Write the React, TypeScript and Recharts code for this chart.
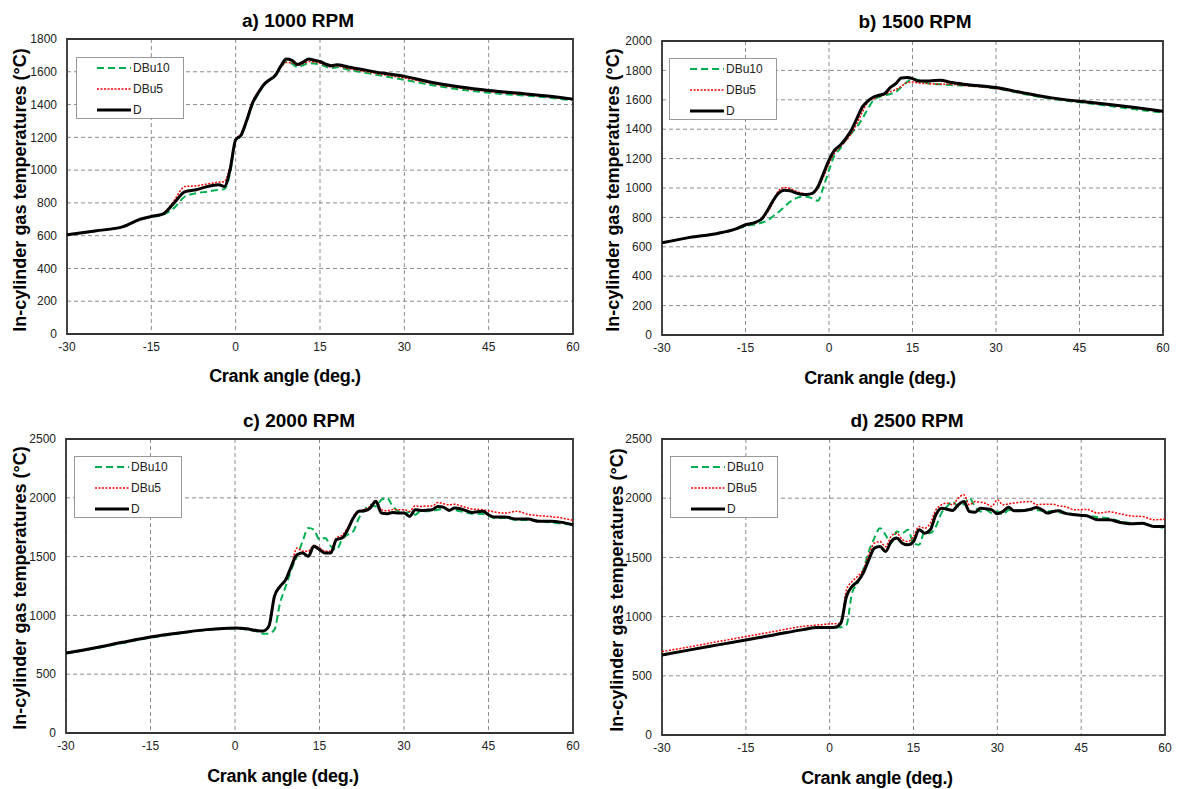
import React from 'react';
import { LineChart, Line, XAxis, YAxis, CartesianGrid, ReferenceArea } from 'recharts';

// crank angle ticks shared by all panels
const X_TICKS = [-30, -15, 0, 15, 30, 45, 60];

// a) 1000 RPM
const ANGLE_A = [-30, -25, -20, -17, -15, -13, -11, -9, -7, -5, -3, -2, -1, 0, 1, 2, 3, 4, 5, 6, 7, 8, 9, 10, 11, 12, 13, 14, 15, 16, 17, 18, 20, 22, 25, 30, 35, 40, 45, 50, 55, 60];
const DBU10_A = [605, 629, 655, 698, 714, 727, 768, 839, 859, 869, 880, 884, 981, 1180, 1210, 1300, 1400, 1465, 1518, 1548, 1572, 1625, 1663, 1650, 1629, 1640, 1653, 1650, 1645, 1632, 1622, 1628, 1612, 1600, 1582, 1551, 1518, 1492, 1472, 1458, 1445, 1425];
const DBU5_A = [605, 629, 655, 700, 717, 733, 812, 900, 904, 916, 926, 930, 1022, 1185, 1225, 1320, 1420, 1478, 1525, 1553, 1575, 1625, 1657, 1655, 1640, 1650, 1663, 1660, 1653, 1640, 1630, 1635, 1620, 1608, 1590, 1562, 1528, 1500, 1480, 1465, 1450, 1430];
const D_A = [605, 629, 655, 700, 717, 731, 798, 869, 880, 900, 910, 900, 1002, 1185, 1215, 1307, 1409, 1470, 1521, 1551, 1576, 1633, 1678, 1670, 1645, 1659, 1678, 1670, 1663, 1647, 1637, 1643, 1629, 1617, 1598, 1572, 1535, 1507, 1486, 1470, 1454, 1433];
const Y_TICKS_A = [0, 200, 400, 600, 800, 1000, 1200, 1400, 1600, 1800];

// b) 1500 RPM
const ANGLE_B = [-30, -25, -20, -17, -15, -13, -12, -11, -10, -9, -8, -7, -6, -5, -4, -3, -2, -1, 0, 1, 2, 3, 4, 5, 6, 7, 8, 9, 10, 11, 12, 13, 14, 15, 16, 18, 20, 22, 25, 30, 35, 40, 45, 50, 55, 60];
const DBU10_B = [627, 664, 691, 715, 741, 754, 765, 781, 810, 838, 872, 906, 929, 940, 940, 929, 913, 1008, 1121, 1223, 1268, 1325, 1370, 1416, 1472, 1540, 1597, 1619, 1630, 1640, 1653, 1687, 1721, 1744, 1735, 1710, 1705, 1700, 1695, 1677, 1640, 1606, 1583, 1560, 1535, 1512];
const DBU5_B = [627, 664, 691, 718, 748, 768, 790, 838, 905, 985, 1003, 996, 980, 966, 960, 963, 1000, 1076, 1166, 1240, 1280, 1320, 1370, 1438, 1517, 1585, 1608, 1625, 1635, 1655, 1669, 1692, 1717, 1721, 1715, 1710, 1706, 1705, 1695, 1677, 1643, 1610, 1587, 1567, 1545, 1518];
const D_B = [627, 664, 691, 718, 750, 770, 793, 850, 917, 967, 985, 981, 967, 958, 956, 963, 1008, 1098, 1189, 1257, 1291, 1336, 1393, 1472, 1552, 1592, 1619, 1631, 1642, 1683, 1710, 1749, 1751, 1744, 1728, 1728, 1733, 1717, 1703, 1683, 1647, 1613, 1590, 1570, 1547, 1522];
const Y_TICKS_B = [0, 200, 400, 600, 800, 1000, 1200, 1400, 1600, 1800, 2000];

// c) 2000 RPM
const ANGLE_C = [-30, -25, -20, -15, -10, -5, 0, 2, 4, 5, 6, 7, 8, 9, 10, 11, 12, 13, 14, 15, 16, 17, 18, 19, 20, 21, 22, 23, 24, 25, 26, 27, 28, 29, 30, 31, 32, 33, 34, 35, 36, 37, 38, 39, 40, 42, 44, 45, 46, 48, 50, 52, 54, 56, 58, 60];
const DBU10_C = [675, 718, 765, 810, 845, 875, 888, 880, 862, 845, 845, 879, 1105, 1247, 1389, 1502, 1630, 1743, 1729, 1644, 1658, 1587, 1559, 1644, 1686, 1715, 1828, 1899, 1941, 1927, 1984, 1998, 1927, 1885, 1870, 1880, 1856, 1890, 1885, 1890, 1899, 1905, 1899, 1895, 1885, 1865, 1862, 1850, 1828, 1828, 1812, 1812, 1800, 1791, 1780, 1771];
const DBU5_C = [680, 723, 771, 816, 850, 879, 895, 890, 872, 868, 900, 1150, 1240, 1300, 1420, 1573, 1545, 1545, 1595, 1575, 1545, 1545, 1660, 1680, 1745, 1840, 1890, 1900, 1930, 1978, 1899, 1890, 1900, 1899, 1899, 1885, 1933, 1925, 1930, 1930, 1961, 1950, 1941, 1945, 1933, 1905, 1899, 1890, 1880, 1870, 1885, 1860, 1848, 1840, 1828, 1808];
const D_C = [680, 723, 771, 816, 850, 879, 893, 887, 870, 867, 907, 1162, 1247, 1304, 1417, 1516, 1530, 1502, 1587, 1559, 1530, 1530, 1644, 1658, 1729, 1828, 1885, 1890, 1913, 1970, 1870, 1865, 1876, 1870, 1870, 1842, 1899, 1893, 1895, 1899, 1927, 1921, 1893, 1913, 1907, 1876, 1885, 1856, 1836, 1836, 1819, 1819, 1800, 1800, 1791, 1771];
const Y_TICKS_C = [0, 500, 1000, 1500, 2000, 2500];

// d) 2500 RPM
const ANGLE_D = [-30, -25, -20, -15, -10, -5, -2, 0, 1, 2, 3, 4, 5, 6, 7, 8, 9, 10, 11, 12, 13, 14, 15, 16, 17, 18, 19, 20, 21, 22, 23, 24, 25, 26, 27, 28, 29, 30, 31, 32, 33, 34, 36, 37, 38, 39, 40, 41, 42, 44, 46, 48, 50, 52, 54, 56, 58, 60];
const DBU10_D = [676, 719, 761, 803, 845, 888, 907, 907, 908, 910, 930, 1198, 1282, 1395, 1550, 1663, 1747, 1691, 1620, 1719, 1705, 1733, 1620, 1606, 1719, 1705, 1761, 1874, 1930, 1972, 1930, 1950, 2001, 1930, 1888, 1900, 1874, 1888, 1860, 1900, 1895, 1900, 1902, 1900, 1895, 1890, 1888, 1880, 1880, 1860, 1851, 1840, 1830, 1805, 1790, 1784, 1765, 1747];
const DBU5_D = [705, 745, 789, 831, 874, 916, 930, 938, 940, 944, 1226, 1296, 1340, 1395, 1522, 1620, 1634, 1590, 1677, 1705, 1650, 1634, 1677, 1761, 1747, 1789, 1902, 1944, 1958, 1944, 2001, 2029, 1944, 1972, 1965, 1955, 1930, 1986, 1944, 1952, 1960, 1966, 1972, 1944, 1950, 1949, 1949, 1935, 1930, 1902, 1905, 1874, 1885, 1868, 1850, 1845, 1818, 1823];
const D_D = [676, 719, 761, 803, 845, 888, 907, 907, 910, 944, 1170, 1254, 1296, 1367, 1479, 1578, 1592, 1550, 1634, 1663, 1620, 1606, 1634, 1733, 1705, 1733, 1860, 1916, 1907, 1896, 1944, 1972, 1888, 1882, 1916, 1910, 1902, 1868, 1888, 1924, 1893, 1893, 1907, 1921, 1902, 1874, 1888, 1893, 1874, 1860, 1851, 1818, 1818, 1795, 1784, 1789, 1761, 1761];
const Y_TICKS_D = [0, 500, 1000, 1500, 2000, 2500];

const FONT = '"Liberation Sans", Arial, sans-serif';
const Y_LABEL = 'In-cylinder gas temperatures (°C)';
const X_LABEL = 'Crank angle (deg.)';

const panels = [
  {
    title: 'a) 1000 RPM', angle: ANGLE_A, dbu10: DBU10_A, dbu5: DBU5_A, d: D_A, yTicks: Y_TICKS_A,
    left: 7, top: 29, width: 576, height: 335,
    titlePos: [298, 21], yLabelPos: [20, 190], xLabelPos: [285, 376], legendPos: [76, 57],
  },
  {
    title: 'b) 1500 RPM', angle: ANGLE_B, dbu10: DBU10_B, dbu5: DBU5_B, d: D_B, yTicks: Y_TICKS_B,
    left: 602, top: 31, width: 571, height: 334,
    titlePos: [915, 22], yLabelPos: [613, 190], xLabelPos: [880, 378], legendPos: [669, 58],
  },
  {
    title: 'c) 2000 RPM', angle: ANGLE_C, dbu10: DBU10_C, dbu5: DBU5_C, d: D_C, yTicks: Y_TICKS_C,
    left: 6, top: 429, width: 577, height: 334,
    titlePos: [299, 421], yLabelPos: [20, 588], xLabelPos: [283, 776], legendPos: [74, 456],
  },
  {
    title: 'd) 2500 RPM', angle: ANGLE_D, dbu10: DBU10_D, dbu5: DBU5_D, d: D_D, yTicks: Y_TICKS_D,
    left: 602, top: 429, width: 573, height: 336,
    titlePos: [907, 421], yLabelPos: [617, 590], xLabelPos: [877, 778], legendPos: [670, 456],
  },
];

const tickStyle = { fontSize: 12, fill: '#222', fontFamily: FONT };

function PanelLegend({ x, y }: { x: number; y: number }) {
  const rows = [
    { name: 'DBu10', color: '#00B050', width: 2, dash: '7 4' },
    { name: 'DBu5', color: '#FF0000', width: 1.5, dash: '2 1.5' },
    { name: 'D', color: '#000', width: 3, dash: undefined },
  ];
  return (
    <div
      style={{
        position: 'absolute', left: x, top: y, width: 106, height: 60,
        border: '1px solid #999', background: '#fff', boxSizing: 'content-box',
      }}
    >
      {rows.map((r, i) => (
        <div key={r.name} style={{ position: 'absolute', left: 0, top: 3 + i * 21, height: 14, width: 106 }}>
          <svg width={40} height={14} style={{ position: 'absolute', left: 18, top: 0 }}>
            <line x1={2} y1={7} x2={36} y2={7} stroke={r.color} strokeWidth={r.width} strokeDasharray={r.dash} />
          </svg>
          <span style={{ position: 'absolute', left: 56, top: 0, fontSize: 12, lineHeight: '14px', fontFamily: FONT, color: '#222' }}>
            {r.name}
          </span>
        </div>
      ))}
    </div>
  );
}

function Panel({ p }: { p: (typeof panels)[number] }) {
  const rows = p.angle.map((angle, i) => ({ angle, DBu10: p.dbu10[i], DBu5: p.dbu5[i], D: p.d[i] }));
  const yMax = p.yTicks[p.yTicks.length - 1];
  return (
    <>
      <div style={{ position: 'absolute', left: p.left, top: p.top }}>
        <LineChart width={p.width} height={p.height} data={rows} margin={{ top: 10, right: 10, left: 0, bottom: 0 }}>
          <CartesianGrid stroke="#8c8c8c" strokeDasharray="4 3" />
          <XAxis
            dataKey="angle"
            type="number"
            domain={[-30, 60]}
            ticks={X_TICKS}
            height={30}
            axisLine={false}
            tickLine={false}
            tick={tickStyle}
            interval={0}
          />
          <YAxis
            type="number"
            domain={[0, yMax]}
            ticks={p.yTicks}
            width={60}
            axisLine={false}
            tickLine={false}
            tickMargin={4}
            tick={tickStyle}
            interval={0}
          />
          <ReferenceArea x1={-30} x2={60} y1={0} y2={yMax} fill="none" stroke="#333" strokeWidth={1.8} ifOverflow="visible" />
          <Line type="monotone" dataKey="DBu10" stroke="#00B050" strokeWidth={2} strokeDasharray="7 4" dot={false} isAnimationActive={false} />
          <Line type="monotone" dataKey="DBu5" stroke="#FF0000" strokeWidth={1.5} strokeDasharray="2 1.5" dot={false} isAnimationActive={false} />
          <Line type="monotone" dataKey="D" stroke="#000" strokeWidth={3} dot={false} isAnimationActive={false} />
        </LineChart>
      </div>
      <PanelLegend x={p.legendPos[0]} y={p.legendPos[1]} />
      <div
        style={{
          position: 'absolute', left: p.titlePos[0] - 120, top: p.titlePos[1] - 11, width: 240, textAlign: 'center',
          fontSize: 19, fontWeight: 'bold', lineHeight: '22px', fontFamily: FONT, color: '#000',
        }}
      >
        {p.title}
      </div>
      <div
        style={{
          position: 'absolute', left: p.yLabelPos[0] - 170, top: p.yLabelPos[1] - 11, width: 340, height: 22,
          textAlign: 'center', transform: 'rotate(-90deg)', transformOrigin: '50% 50%',
          fontSize: 18, fontWeight: 'bold', lineHeight: '22px', fontFamily: FONT, color: '#000', whiteSpace: 'nowrap',
        }}
      >
        {Y_LABEL}
      </div>
      <div
        style={{
          position: 'absolute', left: p.xLabelPos[0] - 120, top: p.xLabelPos[1] - 11, width: 240, textAlign: 'center',
          fontSize: 18, fontWeight: 'bold', lineHeight: '22px', fontFamily: FONT, color: '#000', letterSpacing: -0.3,
        }}
      >
        {X_LABEL}
      </div>
    </>
  );
}

export default function App() {
  return (
    <div style={{ position: 'absolute', left: 0, top: 0, width: 1180, height: 789, background: '#fff', overflow: 'hidden' }}>
      {panels.map((p) => (
        <Panel key={p.title} p={p} />
      ))}
    </div>
  );
}
